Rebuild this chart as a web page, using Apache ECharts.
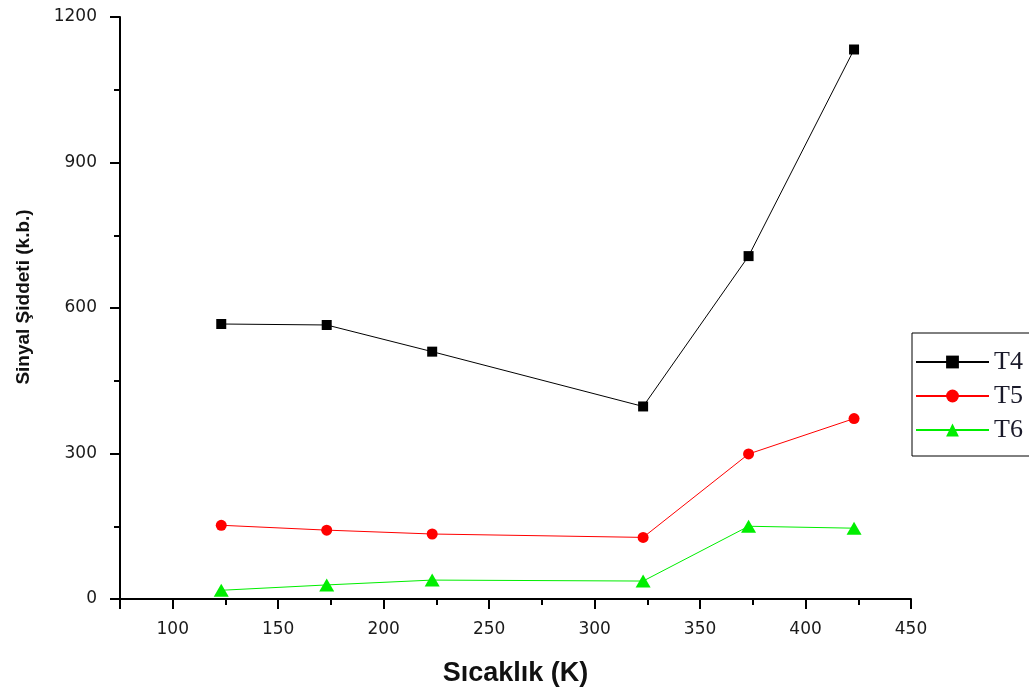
<!DOCTYPE html>
<html>
<head>
<meta charset="utf-8">
<script src="https://cdn.jsdelivr.net/npm/echarts@6/dist/echarts.min.js"></script>
<style>html,body{margin:0;padding:0;background:#fff;}#c{width:1029px;height:695px;}</style>
</head>
<body>
<div id="c"></div>
<script>
const temperatures = [123, 173, 223, 323, 373, 423];
const t4 = [567, 565, 510, 397, 707, 1133];
const t5 = [152, 142, 134, 127, 299, 372];
const t6 = [18, 29, 39, 37, 150, 146];
const seriesNames = ['T4', 'T5', 'T6'];
const xTitle = 'Sıcaklık (K)';
const yTitle = 'Sinyal Şiddeti (k.b.)';

const pairs = v => temperatures.map((t, i) => [t, v[i]]);
const chart = echarts.init(document.getElementById('c'));
const axisCommon = {
  axisLine: {show: true, onZero: false, lineStyle: {color: '#000', width: 2}},
  axisTick: {show: true, inside: false, length: 10, lineStyle: {color: '#000', width: 2}},
  minorTick: {show: true, splitNumber: 2, length: 6, lineStyle: {color: '#000', width: 2}},
  splitLine: {show: false}
};
const labelStyle = {fontFamily: 'DejaVu Sans', fontSize: 17, color: '#1a1a1a', formatter: v => String(v)};
chart.setOption({
  animation: false,
  backgroundColor: '#fff',
  grid: {left: 120, right: 118, top: 17, bottom: 96, containLabel: false},
  xAxis: Object.assign({}, axisCommon, {
    type: 'value', min: 75, max: 450, splitNumber: 7,
    name: xTitle, nameLocation: 'middle', nameGap: 61,
    nameTextStyle: {fontFamily: 'Liberation Sans', fontWeight: 'bold', fontSize: 27, color: '#111'},
    axisLabel: Object.assign({showMinLabel: false, margin: 22}, labelStyle)
  }),
  yAxis: Object.assign({}, axisCommon, {
    type: 'value', min: 0, max: 1200, interval: 300,
    name: yTitle, nameLocation: 'middle', nameGap: 87,
    nameTextStyle: {fontFamily: 'Liberation Sans', fontWeight: 'bold', fontSize: 19, color: '#111', padding: [0, 0, 0, 22]},
    axisLabel: Object.assign({margin: 23}, labelStyle)
  }),
  legend: {
    left: 912, top: 333, orient: 'vertical',
    borderColor: '#000', borderWidth: 1, padding: [16, 40, 13, 3],
    itemWidth: 73, itemHeight: 16, itemGap: 8,
    textStyle: {fontFamily: 'Liberation Serif', fontSize: 26, color: '#1a1a2a', lineHeight: 26},
    data: seriesNames
  },
  series: [
    {name: seriesNames[0], type: 'line', data: pairs(t4), symbol: 'rect', symbolSize: 10,
     lineStyle: {color: '#000', width: 1}, itemStyle: {color: '#000'}},
    {name: seriesNames[1], type: 'line', data: pairs(t5), symbol: 'circle', symbolSize: 11,
     lineStyle: {color: '#ff0000', width: 1}, itemStyle: {color: '#ff0000'}},
    {name: seriesNames[2], type: 'line', data: pairs(t6), symbol: 'triangle', symbolSize: [15, 13],
     lineStyle: {color: '#00ee00', width: 1}, itemStyle: {color: '#00ee00'}}
  ]
});
</script>
</body>
</html>
